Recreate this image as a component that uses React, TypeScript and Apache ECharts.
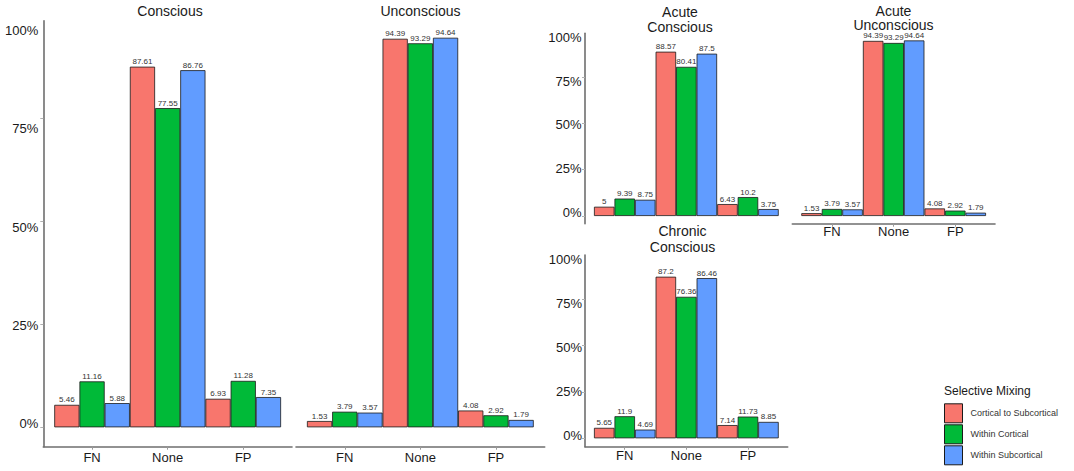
import React, { useEffect, useRef } from 'react';
import * as echarts from 'echarts';

// ---- data ----
const categories = ['FN', 'None', 'FP'];
const seriesNames = ['Cortical to Subcortical', 'Within Cortical', 'Within Subcortical'];
const yTickValues = [0, 25, 50, 75, 100];

const consciousCtS = [5.46, 87.61, 6.93];
const consciousWC = [11.16, 77.55, 11.28];
const consciousWS = [5.88, 86.76, 7.35];

const unconsciousCtS = [1.53, 94.39, 4.08];
const unconsciousWC = [3.79, 93.29, 2.92];
const unconsciousWS = [3.57, 94.64, 1.79];

const acuteConsciousCtS = [5, 88.57, 6.43];
const acuteConsciousWC = [9.39, 80.41, 10.2];
const acuteConsciousWS = [8.75, 87.5, 3.75];

const acuteUnconsciousCtS = [1.53, 94.39, 4.08];
const acuteUnconsciousWC = [3.79, 93.29, 2.92];
const acuteUnconsciousWS = [3.57, 94.64, 1.79];

const chronicConsciousCtS = [5.65, 87.2, 7.14];
const chronicConsciousWC = [11.9, 76.36, 11.73];
const chronicConsciousWS = [4.69, 86.46, 8.85];

const COLORS = ['#F8766D', '#00BA38', '#619CFF'];
const FONT = '"Liberation Sans", Arial, sans-serif';
const AXIS_COLOR = '#6f6f6f';
const TEXT_COLOR = '#1a1a1a';

export default function App() {
  const ref = useRef<HTMLDivElement>(null);

  useEffect(() => {
    const chart = echarts.init(ref.current as HTMLDivElement, null, { renderer: 'svg' });

    const panels = [
      {
        title: 'Conscious', tx: 170, ty: 10.5, lh: 14.5,
        left: 43.3, top: 20.7, width: 248.7, height: 426,
        yMin: -4.71, yMax: 98.78, lMin: -5.96, lMax: 102.55,
        showY: true, showX: true, xMargin: 4, yMargin: 5, barWidth: 25.2,
        data: [consciousCtS, consciousWC, consciousWS],
      },
      {
        title: 'Unconscious', tx: 420.5, ty: 10.5, lh: 14.5,
        left: 296, top: 20.7, width: 248.7, height: 426,
        yMin: -4.71, yMax: 98.78, lMin: 0, lMax: 0,
        showY: false, showX: true, xMargin: 4, yMargin: 5, barWidth: 25.2,
        data: [unconsciousCtS, unconsciousWC, unconsciousWS],
      },
      {
        title: 'Acute\nConscious', tx: 680, ty: 19.5, lh: 14.4,
        left: 585, top: 33.3, width: 202.7, height: 190.4,
        yMin: -4.15, yMax: 98.49, lMin: -6.51, lMax: 102.29,
        showY: true, showX: false, xMargin: 2, yMargin: 3.5, barWidth: 20.5,
        data: [acuteConsciousCtS, acuteConsciousWC, acuteConsciousWS],
      },
      {
        title: 'Acute\nUnconscious', tx: 893.5, ty: 17.5, lh: 14,
        left: 792.3, top: 33.3, width: 202.7, height: 190.4,
        yMin: -4.15, yMax: 98.49, lMin: 0, lMax: 0,
        showY: false, showX: true, xMargin: 1.5, yMargin: 3.5, barWidth: 20.5,
        data: [acuteUnconsciousCtS, acuteUnconsciousWC, acuteUnconsciousWS],
      },
      {
        title: 'Chronic\nConscious', tx: 682.5, ty: 238.7, lh: 16,
        left: 585, top: 255, width: 202.7, height: 191.7,
        yMin: -4.53, yMax: 98.92, lMin: -6.08, lMax: 102.84,
        showY: true, showX: true, xMargin: 2.5, yMargin: 3, barWidth: 20.5,
        data: [chronicConsciousCtS, chronicConsciousWC, chronicConsciousWS],
      },
    ];

    const grid: any[] = [];
    const xAxis: any[] = [];
    const yAxis: any[] = [];
    const series: any[] = [];
    const graphic: any[] = [];

    panels.forEach((p, i) => {
      grid.push({ left: p.left, top: p.top, width: p.width, height: p.height, containLabel: false });
      xAxis.push({
        type: 'value',
        gridIndex: i,
        min: -0.645,
        max: 2.645,
        show: p.showX,
        axisLine: { show: true, onZero: false, lineStyle: { color: AXIS_COLOR, width: 1.6 } },
        axisTick: { show: true, customValues: [0, 1, 2], length: 3, lineStyle: { color: '#9a9a9a', width: 1 } },
        axisLabel: {
          customValues: [0, 1, 2],
          formatter: (v: number) => categories[Math.round(v)] ?? '',
          margin: p.xMargin,
          fontSize: 13,
          color: TEXT_COLOR,
          fontFamily: FONT,
        },
        splitLine: { show: false },
      });
      const barY = yAxis.length;
      yAxis.push({
        type: 'value',
        gridIndex: i,
        position: 'left',
        min: p.yMin,
        max: p.yMax,
        show: p.showY,
        axisLine: { show: true, onZero: false, lineStyle: { color: AXIS_COLOR, width: 1.6 } },
        axisTick: { show: true, customValues: [0, 25, 50, 75], length: 3, lineStyle: { color: '#b0b0b0', width: 1 } },
        axisLabel: { show: false },
        splitLine: { show: false },
      });
      if (p.showY) {
        yAxis.push({
          type: 'value',
          gridIndex: i,
          position: 'left',
          min: p.lMin,
          max: p.lMax,
          axisLine: { show: false },
          axisTick: { show: false },
          splitLine: { show: false },
          axisLabel: {
            customValues: yTickValues,
            formatter: (v: number) => `${v}%`,
            margin: p.yMargin,
            fontSize: 13,
            color: TEXT_COLOR,
            fontFamily: FONT,
          },
        });
      }
      p.data.forEach((vals, k) => {
        series.push({
          type: 'bar',
          name: seriesNames[k],
          xAxisIndex: i,
          yAxisIndex: barY,
          data: vals.map((v, j) => [j, v]),
          barWidth: p.barWidth,
          barGap: '0%',
          itemStyle: { color: COLORS[k], borderColor: '#1a1a1a', borderWidth: 0.8 },
          label: {
            show: true,
            position: 'top',
            distance: 1,
            fontSize: 8,
            lineHeight: 8,
            color: '#333',
            fontFamily: FONT,
            formatter: (prm: any) => String(prm.value[1]),
          },
        });
      });
      graphic.push({
        type: 'text',
        x: p.tx,
        y: p.ty,
        style: {
          text: p.title,
          align: 'center',
          verticalAlign: 'middle',
          fontSize: 14,
          lineHeight: p.lh,
          fontFamily: FONT,
          fill: TEXT_COLOR,
        },
      });
    });

    graphic.push({
      type: 'text',
      x: 944,
      y: 391,
      style: {
        text: 'Selective Mixing',
        align: 'left',
        verticalAlign: 'middle',
        fontSize: 12,
        fontFamily: FONT,
        fill: TEXT_COLOR,
      },
    });

    chart.setOption({
      animation: false,
      backgroundColor: '#ffffff',
      grid,
      xAxis,
      yAxis,
      series,
      graphic,
      legend: {
        data: seriesNames,
        orient: 'vertical',
        left: 944,
        top: 403.3,
        padding: 0,
        itemWidth: 18,
        itemHeight: 19,
        itemGap: 1,
        icon: 'rect',
        selectedMode: false,
        itemStyle: { borderColor: '#1a1a1a', borderWidth: 1 },
        textStyle: { fontSize: 9, color: '#333', fontFamily: FONT, padding: [0, 0, 0, 3] },
      },
    });

    return () => {
      chart.dispose();
    };
  }, []);

  return (
    <div
      ref={ref}
      style={{ position: 'fixed', left: 0, top: 0, width: 1074, height: 471, background: '#fff' }}
    />
  );
}
